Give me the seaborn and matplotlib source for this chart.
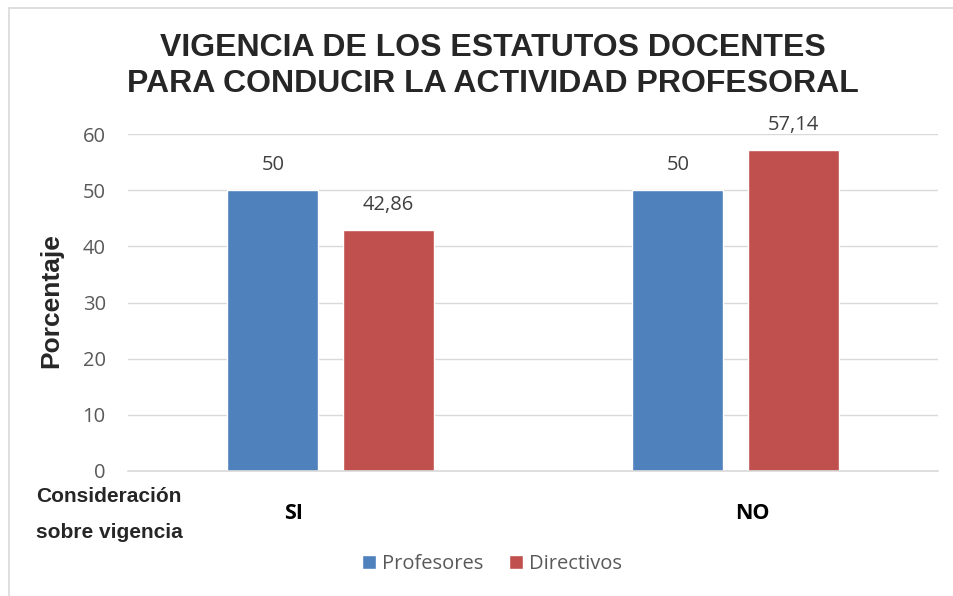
import matplotlib
matplotlib.use("Agg")
import matplotlib.pyplot as plt
import matplotlib.transforms as mtransforms
import numpy as np
import pandas as pd
import seaborn as sns

# data
categorias = ["SI", "NO"]
grupos = ["Profesores", "Directivos"]
profesores = [50, 50]
directivos = [42.86, 57.14]
yticks = [0, 10, 20, 30, 40, 50, 60]

colores = ["#4F81BD", "#C0504D"]
gris = "#595959"

df = pd.DataFrame({
    "categoria": categorias * 2,
    "grupo": [grupos[0]] * 2 + [grupos[1]] * 2,
    "valor": profesores + directivos,
})

sns.set_theme(style="white")
plt.rcParams["font.family"] = ["Open Sans", "DejaVu Sans"]

fig = plt.figure(figsize=(9.54, 5.96), dpi=100)
ax = fig.add_axes([128 / 954, 125 / 596, 810 / 954, 337 / 596])

sns.barplot(data=df, x="categoria", y="valor", hue="grupo", order=categorias,
            hue_order=grupos, palette=colores, width=0.57, gap=0.21,
            saturation=1, ax=ax, legend=True)

ax.set_ylim(0, 60)
ax.set_xlim(-0.5, 1.5)
ax.set_yticks(yticks)
ax.yaxis.grid(True, color="#d9d9d9", linewidth=1)
ax.set_axisbelow(True)
for s in ["top", "right", "left"]:
    ax.spines[s].set_visible(False)
ax.spines["bottom"].set_color("#d9d9d9")
ax.spines["bottom"].set_linewidth(1.2)
ax.tick_params(axis="y", length=0, labelsize=14.5, labelcolor=gris, pad=16)
ax.tick_params(axis="x", length=0, pad=23)
# category labels are not centred under the groups in the original
desplaz = [-0.37, 0.17]
for t, dx in zip(ax.get_xticklabels(), desplaz):
    t.set_fontsize(15.5)
    t.set_fontweight("bold")
    t.set_color("black")
    t.set_transform(t.get_transform() + mtransforms.ScaledTranslation(dx, 0, fig.dpi_scale_trans))
ax.set_xlabel("")
ax.set_ylabel("Porcentaje", fontsize=19, fontweight="bold",
              family="Liberation Sans")
ax.yaxis.set_label_coords(-0.08, 0.505)

# data labels
for cont in ax.containers:
    etiquetas = [f"{b.get_height():g}".replace(".", ",") for b in cont]
    ax.bar_label(cont, labels=etiquetas, padding=11, fontsize=14.5, color="#404040")

# legend at the bottom
handles, labels = ax.get_legend_handles_labels()
ax.legend(handles, labels, loc="center", bbox_to_anchor=(492 / 954, 1 - 564 / 596),
          bbox_transform=fig.transFigure, ncol=2, frameon=False, fontsize=14.5,
          labelcolor=gris, handlelength=0.7, handleheight=0.7,
          handletextpad=0.3, columnspacing=1.3)

fig.text(0.517, 1 - 66 / 596, "VIGENCIA DE LOS ESTATUTOS DOCENTES\nPARA CONDUCIR LA ACTIVIDAD PROFESORAL",
         ha="center", va="center", fontsize=23, fontweight="bold",
         family="Liberation Sans", linespacing=1.25)
fig.text(36 / 954, 1 - 497 / 596, "Consideración", ha="left", va="center",
         fontsize=15, fontweight="bold", family="Liberation Sans")
fig.text(36 / 954, 1 - 533 / 596, "sobre vigencia", ha="left", va="center",
         fontsize=15, fontweight="bold", family="Liberation Sans")

# chart frame (left and top edges)
fig.add_artist(plt.Line2D([9 / 954, 9 / 954], [0, 1 - 8 / 596],
                          transform=fig.transFigure, color="#d9d9d9", linewidth=1.2))
fig.add_artist(plt.Line2D([9 / 954, 1], [1 - 8 / 596, 1 - 8 / 596],
                          transform=fig.transFigure, color="#d9d9d9", linewidth=1.2))

fig.savefig("out.png", dpi=100)
